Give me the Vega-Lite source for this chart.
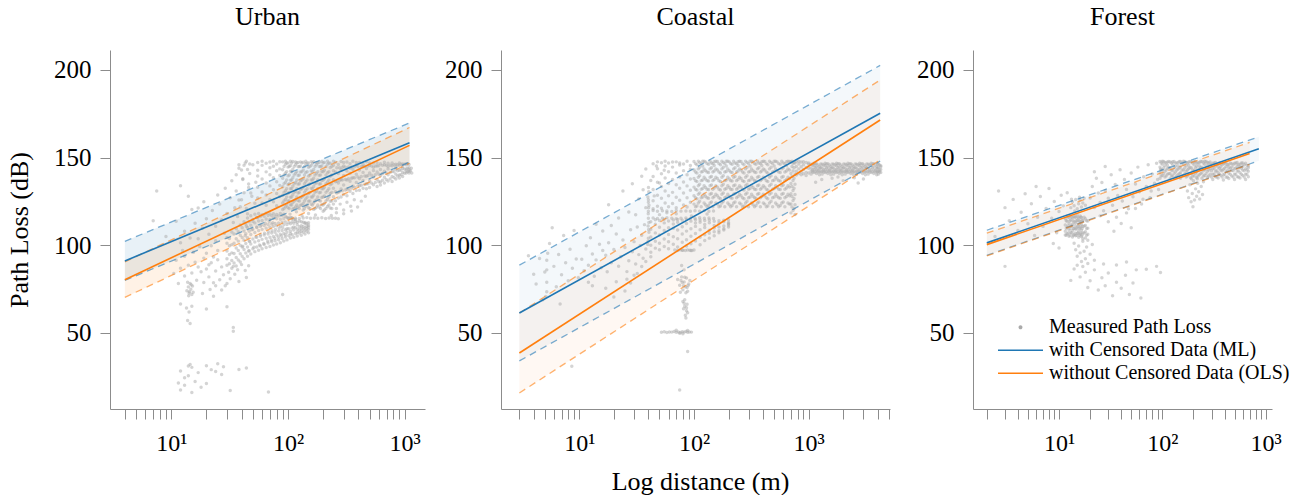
{
"$schema": "https://vega.github.io/schema/vega-lite/v6.json",
"padding": {"left": 6, "top": 3, "right": 5, "bottom": 5},
"spacing": 0,
"config": {
 "view": {"stroke": null},
 "font": "Liberation Serif",
 "axis": {"grid": false, "domainColor": "#8c8c8c", "tickColor": "#8c8c8c", "domainWidth": 1, "tickWidth": 1, "tickSize": 10, "labelFont": "Liberation Serif", "labelColor": "#000000", "titleFont": "Liberation Serif", "titleFontSize": 26, "titleFontWeight": "normal", "titleColor": "#000000"},
 "axisX": {"labelFontSize": 24, "labelPadding": 12, "titlePadding": 13.5, "labelFlush": false, "labelOverlap": false},
 "axisY": {"labelFontSize": 25, "labelPadding": 9, "titlePadding": 20},
 "title": {"font": "Liberation Serif", "fontSize": 26, "fontWeight": "normal", "color": "#000000", "baseline": "alphabetic", "offset": 20.2, "anchor": "middle", "frame": "group"}
},
"resolve": {"scale": {"color": "independent"}, "legend": {"color": "independent"}},
"datasets": {
"fit": [
{"panel":"Urban","model":"with Censored Data (ML)","d":4,"pl":91.1,"lo":80.0,"hi":102.3},
{"panel":"Urban","model":"with Censored Data (ML)","d":1100,"pl":158.5,"lo":147.4,"hi":169.8},
{"panel":"Urban","model":"without Censored Data (OLS)","d":4,"pl":80.4,"lo":70.3,"hi":90.6},
{"panel":"Urban","model":"without Censored Data (OLS)","d":1100,"pl":157.0,"lo":146.8,"hi":167.2},
{"panel":"Coastal","model":"with Censored Data (ML)","d":3,"pl":61.4,"lo":34.1,"hi":88.7},
{"panel":"Coastal","model":"with Censored Data (ML)","d":4200,"pl":175.3,"lo":148.0,"hi":202.6},
{"panel":"Coastal","model":"without Censored Data (OLS)","d":3,"pl":38.6,"lo":15.8,"hi":61.4},
{"panel":"Coastal","model":"without Censored Data (OLS)","d":4200,"pl":171.5,"lo":148.7,"hi":194.3},
{"panel":"Forest","model":"with Censored Data (ML)","d":2,"pl":101.4,"lo":94.3,"hi":108.6},
{"panel":"Forest","model":"with Censored Data (ML)","d":860,"pl":155.1,"lo":148.2,"hi":161.9},
{"panel":"Forest","model":"without Censored Data (OLS)","d":2,"pl":100.4,"lo":94.0,"hi":106.9},
{"panel":"Forest","model":"without Censored Data (OLS)","d":700,"pl":152.4,"lo":146.2,"hi":158.7}
],
"U": [
{"d":90,"pl":147.6},{"d":90,"pl":143.1},{"d":90,"pl":138.2},{"d":90,"pl":133.4},{"d":90,"pl":128.5},{"d":90,"pl":124.1},{"d":90,"pl":120.4},
{"d":95,"pl":146.2},{"d":95,"pl":141.3},{"d":95,"pl":136.0},{"d":95,"pl":131.1},{"d":95,"pl":126.2},{"d":95,"pl":122.0},{"d":95,"pl":148.0},
{"d":100,"pl":147.0},{"d":100,"pl":144.6},{"d":100,"pl":139.6},{"d":100,"pl":134.7},{"d":100,"pl":129.7},{"d":100,"pl":125.3},{"d":100,"pl":121.5},
{"d":105,"pl":145.4},{"d":105,"pl":142.2},{"d":105,"pl":137.1},{"d":105,"pl":132.3},{"d":105,"pl":127.4},{"d":105,"pl":123.2},{"d":105,"pl":147.9},
{"d":110,"pl":147.8},{"d":110,"pl":143.4},{"d":110,"pl":138.5},{"d":110,"pl":133.7},{"d":110,"pl":128.8},{"d":110,"pl":124.4},{"d":110,"pl":120.7},
{"d":116,"pl":146.0},{"d":116,"pl":141.1},{"d":116,"pl":135.8},{"d":116,"pl":130.9},{"d":116,"pl":126.0},{"d":116,"pl":121.8},{"d":116,"pl":147.5},
{"d":122,"pl":147.2},{"d":122,"pl":144.8},{"d":122,"pl":139.8},{"d":122,"pl":134.9},{"d":122,"pl":129.9},{"d":122,"pl":125.5},{"d":122,"pl":121.7},
{"d":128,"pl":145.1},{"d":128,"pl":141.9},{"d":128,"pl":136.8},{"d":128,"pl":132.0},{"d":128,"pl":127.1},{"d":128,"pl":122.9},{"d":128,"pl":147.6},
{"d":135,"pl":147.4},{"d":135,"pl":142.9},{"d":135,"pl":138.0},{"d":135,"pl":133.2},{"d":135,"pl":128.3},{"d":135,"pl":123.9},{"d":135,"pl":120.2},
{"d":142,"pl":146.5},{"d":142,"pl":141.6},{"d":142,"pl":136.3},{"d":142,"pl":131.4},{"d":142,"pl":126.5},{"d":142,"pl":122.3},{"d":142,"pl":148.0},
{"d":150,"pl":146.9},{"d":150,"pl":144.5},{"d":150,"pl":139.5},{"d":150,"pl":134.6},{"d":150,"pl":129.6},{"d":150,"pl":125.2},{"d":150,"pl":121.4},
{"d":158,"pl":145.6},{"d":158,"pl":142.4},{"d":158,"pl":137.3},{"d":158,"pl":132.5},{"d":158,"pl":127.6},{"d":158,"pl":123.4},{"d":158,"pl":147.7},
{"d":166,"pl":147.7},{"d":166,"pl":143.2},{"d":166,"pl":138.3},{"d":166,"pl":133.5},{"d":166,"pl":128.6},{"d":166,"pl":124.2},{"d":166,"pl":120.5},
{"d":175,"pl":145.9},{"d":175,"pl":141.0},{"d":175,"pl":135.7},{"d":175,"pl":130.8},{"d":175,"pl":125.9},{"d":175,"pl":121.7},{"d":175,"pl":147.3},
{"d":185,"pl":147.3},{"d":185,"pl":144.9},{"d":185,"pl":139.9},{"d":185,"pl":135.0},{"d":185,"pl":130.0},{"d":185,"pl":125.6},{"d":185,"pl":121.8},
{"d":195,"pl":145.3},{"d":195,"pl":142.1},{"d":195,"pl":137.0},{"d":195,"pl":132.2},{"d":195,"pl":127.3},{"d":195,"pl":123.1},{"d":195,"pl":147.8},
{"d":205,"pl":147.3},{"d":205,"pl":142.8},{"d":205,"pl":137.9},{"d":205,"pl":133.1},{"d":205,"pl":128.2},{"d":205,"pl":123.8},{"d":205,"pl":120.1},
{"d":218,"pl":146.3},{"d":218,"pl":141.4},{"d":218,"pl":136.1},{"d":218,"pl":131.2},{"d":218,"pl":126.3},{"d":218,"pl":122.1},{"d":218,"pl":148.0},
{"d":230,"pl":146.8},{"d":230,"pl":144.4},{"d":230,"pl":139.4},{"d":230,"pl":134.5},{"d":230,"pl":129.5},{"d":230,"pl":125.1},{"d":230,"pl":121.3},
{"d":245,"pl":145.7},{"d":245,"pl":142.5},{"d":245,"pl":137.4},{"d":245,"pl":132.6},{"d":245,"pl":127.7},{"d":245,"pl":123.5},{"d":245,"pl":147.9},
{"d":92.5,"pl":145.0},{"d":92.5,"pl":140.1},{"d":92.5,"pl":135.1},{"d":92.5,"pl":130.2},{"d":92.5,"pl":125.3},{"d":92.5,"pl":121.0},
{"d":97.5,"pl":146.9},{"d":97.5,"pl":142.0},{"d":97.5,"pl":137.2},{"d":97.5,"pl":132.3},{"d":97.5,"pl":127.5},{"d":97.5,"pl":123.0},
{"d":102.5,"pl":145.0},{"d":102.5,"pl":140.1},{"d":102.5,"pl":135.1},{"d":102.5,"pl":130.2},{"d":102.5,"pl":125.3},{"d":102.5,"pl":121.0},
{"d":107.5,"pl":146.9},{"d":107.5,"pl":142.0},{"d":107.5,"pl":137.2},{"d":107.5,"pl":132.3},{"d":107.5,"pl":127.5},{"d":107.5,"pl":123.0},
{"d":113,"pl":145.0},{"d":113,"pl":140.1},{"d":113,"pl":135.1},{"d":113,"pl":130.2},{"d":113,"pl":125.3},{"d":113,"pl":121.0},
{"d":119,"pl":146.9},{"d":119,"pl":142.0},{"d":119,"pl":137.2},{"d":119,"pl":132.3},{"d":119,"pl":127.5},{"d":119,"pl":123.0},
{"d":125,"pl":145.0},{"d":125,"pl":140.1},{"d":125,"pl":135.1},{"d":125,"pl":130.2},{"d":125,"pl":125.3},{"d":125,"pl":121.0},
{"d":131.5,"pl":146.9},{"d":131.5,"pl":142.0},{"d":131.5,"pl":137.2},{"d":131.5,"pl":132.3},{"d":131.5,"pl":127.5},{"d":131.5,"pl":123.0},
{"d":138.5,"pl":145.0},{"d":138.5,"pl":140.1},{"d":138.5,"pl":135.1},{"d":138.5,"pl":130.2},{"d":138.5,"pl":125.3},{"d":138.5,"pl":121.0},
{"d":146,"pl":146.9},{"d":146,"pl":142.0},{"d":146,"pl":137.2},{"d":146,"pl":132.3},{"d":146,"pl":127.5},{"d":146,"pl":123.0},
{"d":154,"pl":145.0},{"d":154,"pl":140.1},{"d":154,"pl":135.1},{"d":154,"pl":130.2},{"d":154,"pl":125.3},{"d":154,"pl":121.0},
{"d":162,"pl":146.9},{"d":162,"pl":142.0},{"d":162,"pl":137.2},{"d":162,"pl":132.3},{"d":162,"pl":127.5},{"d":162,"pl":123.0},
{"d":170.5,"pl":145.0},{"d":170.5,"pl":140.1},{"d":170.5,"pl":135.1},{"d":170.5,"pl":130.2},{"d":170.5,"pl":125.3},{"d":170.5,"pl":121.0},
{"d":180,"pl":146.9},{"d":180,"pl":142.0},{"d":180,"pl":137.2},{"d":180,"pl":132.3},{"d":180,"pl":127.5},{"d":180,"pl":123.0},
{"d":190,"pl":145.0},{"d":190,"pl":140.1},{"d":190,"pl":135.1},{"d":190,"pl":130.2},{"d":190,"pl":125.3},{"d":190,"pl":121.0},
{"d":200,"pl":146.9},{"d":200,"pl":142.0},{"d":200,"pl":137.2},{"d":200,"pl":132.3},{"d":200,"pl":127.5},{"d":200,"pl":123.0},
{"d":211.5,"pl":145.0},{"d":211.5,"pl":140.1},{"d":211.5,"pl":135.1},{"d":211.5,"pl":130.2},{"d":211.5,"pl":125.3},{"d":211.5,"pl":121.0},
{"d":224,"pl":146.9},{"d":224,"pl":142.0},{"d":224,"pl":137.2},{"d":224,"pl":132.3},{"d":224,"pl":127.5},{"d":224,"pl":123.0},
{"d":237.5,"pl":145.0},{"d":237.5,"pl":140.1},{"d":237.5,"pl":135.1},{"d":237.5,"pl":130.2},{"d":237.5,"pl":125.3},{"d":237.5,"pl":121.0},
{"d":55,"pl":147.2},{"d":55,"pl":139.5},{"d":55,"pl":133.1},{"d":55,"pl":127.0},{"d":55,"pl":142.8},
{"d":60,"pl":145.6},{"d":60,"pl":137.8},{"d":60,"pl":130.4},{"d":60,"pl":124.2},{"d":60,"pl":148.0},
{"d":65,"pl":146.8},{"d":65,"pl":141.9},{"d":65,"pl":135.6},{"d":65,"pl":128.7},{"d":65,"pl":122.9},
{"d":70,"pl":147.5},{"d":70,"pl":140.3},{"d":70,"pl":133.9},{"d":70,"pl":126.1},{"d":70,"pl":144.2},
{"d":75,"pl":145.1},{"d":75,"pl":138.6},{"d":75,"pl":131.7},{"d":75,"pl":124.8},{"d":75,"pl":147.9},
{"d":80,"pl":146.4},{"d":80,"pl":142.5},{"d":80,"pl":136.3},{"d":80,"pl":129.5},{"d":80,"pl":122.6},
{"d":85,"pl":147.7},{"d":85,"pl":139.9},{"d":85,"pl":134.2},{"d":85,"pl":127.8},{"d":85,"pl":143.6},
{"d":36,"pl":131},{"d":38,"pl":144},{"d":40,"pl":126},{"d":41,"pl":138},{"d":43,"pl":147},{"d":44,"pl":121},{"d":46,"pl":133},{"d":47,"pl":141},{"d":49,"pl":128},{"d":50,"pl":146},{"d":52,"pl":124},{"d":53,"pl":136},{"d":42,"pl":130},{"d":45,"pl":118},{"d":39,"pl":122},
{"d":255,"pl":147.4},{"d":255,"pl":141.8},{"d":255,"pl":136.2},{"d":255,"pl":130.6},{"d":255,"pl":125.4},
{"d":270,"pl":146.1},{"d":270,"pl":140.9},{"d":270,"pl":135.5},{"d":270,"pl":130.2},{"d":270,"pl":127.0},
{"d":285,"pl":147.8},{"d":285,"pl":143.0},{"d":285,"pl":137.6},{"d":285,"pl":132.1},{"d":285,"pl":127.5},
{"d":300,"pl":145.3},{"d":300,"pl":139.8},{"d":300,"pl":134.4},{"d":300,"pl":129.0},{"d":300,"pl":147.2},
{"d":320,"pl":147.5},{"d":320,"pl":142.4},{"d":320,"pl":137.2},{"d":320,"pl":132.0},{"d":320,"pl":128.3},
{"d":340,"pl":146.6},{"d":340,"pl":141.1},{"d":340,"pl":136.6},{"d":340,"pl":130.8},{"d":340,"pl":144.0},
{"d":360,"pl":147.9},{"d":360,"pl":143.3},{"d":360,"pl":138.5},{"d":360,"pl":133.7},{"d":360,"pl":129.5},
{"d":385,"pl":145.8},{"d":385,"pl":140.5},{"d":385,"pl":135.9},{"d":385,"pl":131.2},{"d":385,"pl":147.3},
{"d":410,"pl":147.2},{"d":410,"pl":142.9},{"d":410,"pl":138.1},{"d":410,"pl":134.0},{"d":410,"pl":131.4},
{"d":440,"pl":146.3},{"d":440,"pl":141.6},{"d":440,"pl":137.0},{"d":440,"pl":132.5},{"d":440,"pl":144.8},
{"d":470,"pl":147.6},{"d":470,"pl":143.8},{"d":470,"pl":139.4},{"d":470,"pl":135.1},{"d":470,"pl":132.3},
{"d":500,"pl":145.7},{"d":500,"pl":141.2},{"d":500,"pl":136.8},{"d":500,"pl":133.0},{"d":500,"pl":147.0},
{"d":540,"pl":146.9},{"d":540,"pl":142.7},{"d":540,"pl":138.9},{"d":540,"pl":134.6},{"d":540,"pl":144.5},
{"d":580,"pl":145.2},{"d":580,"pl":141.8},{"d":580,"pl":137.5},{"d":580,"pl":133.6},{"d":580,"pl":147.1},
{"d":620,"pl":146.5},{"d":620,"pl":143.2},{"d":620,"pl":139.7},{"d":620,"pl":136.1},{"d":620,"pl":134.4},
{"d":670,"pl":145.9},{"d":670,"pl":142.3},{"d":670,"pl":138.8},{"d":670,"pl":135.5},{"d":670,"pl":147.4},
{"d":720,"pl":146.8},{"d":720,"pl":143.6},{"d":720,"pl":140.2},{"d":720,"pl":136.7},{"d":720,"pl":144.9},
{"d":780,"pl":145.4},{"d":780,"pl":142.1},{"d":780,"pl":139.3},{"d":780,"pl":136.4},{"d":780,"pl":147.0},
{"d":840,"pl":146.2},{"d":840,"pl":143.4},{"d":840,"pl":140.6},{"d":840,"pl":137.8},{"d":840,"pl":144.7},
{"d":900,"pl":145.6},{"d":900,"pl":142.8},{"d":900,"pl":140.1},{"d":900,"pl":138.4},{"d":900,"pl":146.9},
{"d":960,"pl":146.4},{"d":960,"pl":143.9},{"d":960,"pl":141.5},{"d":960,"pl":139.3},{"d":960,"pl":145.1},
{"d":1030,"pl":145.8},{"d":1030,"pl":143.5},{"d":1030,"pl":141.2},{"d":1030,"pl":146.6},{"d":1030,"pl":142.4},
{"d":1090,"pl":146.1},{"d":1090,"pl":144.2},{"d":1090,"pl":142.3},{"d":1090,"pl":141.3},{"d":1090,"pl":143.1},
{"d":262,"pl":129.9},{"d":262,"pl":136.5},{"d":262,"pl":144.2},
{"d":277,"pl":130.7},{"d":277,"pl":137.0},{"d":277,"pl":144.3},
{"d":292,"pl":131.1},{"d":292,"pl":137.3},{"d":292,"pl":144.4},
{"d":310,"pl":131.5},{"d":310,"pl":137.5},{"d":310,"pl":144.5},
{"d":330,"pl":132.3},{"d":330,"pl":138.0},{"d":330,"pl":144.7},
{"d":350,"pl":132.7},{"d":350,"pl":138.3},{"d":350,"pl":144.7},
{"d":372,"pl":133.1},{"d":372,"pl":138.5},{"d":372,"pl":144.8},
{"d":397,"pl":133.9},{"d":397,"pl":139.0},{"d":397,"pl":145.0},
{"d":425,"pl":134.3},{"d":425,"pl":139.3},{"d":425,"pl":145.0},
{"d":455,"pl":134.7},{"d":455,"pl":139.5},{"d":455,"pl":145.1},
{"d":485,"pl":135.1},{"d":485,"pl":139.8},{"d":485,"pl":145.2},
{"d":520,"pl":135.5},{"d":520,"pl":140.0},{"d":520,"pl":145.3},
{"d":560,"pl":135.9},{"d":560,"pl":140.3},{"d":560,"pl":145.3},
{"d":600,"pl":136.3},{"d":600,"pl":140.5},{"d":600,"pl":145.4},
{"d":645,"pl":137.1},{"d":645,"pl":141.0},{"d":645,"pl":145.6},
{"d":695,"pl":137.5},{"d":695,"pl":141.3},{"d":695,"pl":145.6},
{"d":750,"pl":137.9},{"d":750,"pl":141.5},{"d":750,"pl":145.7},
{"d":810,"pl":138.7},{"d":810,"pl":142.0},{"d":810,"pl":145.9},
{"d":870,"pl":139.5},{"d":870,"pl":142.5},{"d":870,"pl":146.0},
{"d":930,"pl":140.3},{"d":930,"pl":143.0},{"d":930,"pl":146.2},
{"d":995,"pl":141.1},{"d":995,"pl":143.5},{"d":995,"pl":146.3},
{"d":1060,"pl":141.9},{"d":1060,"pl":144.0},{"d":1060,"pl":146.5},
{"d":1120,"pl":142.5},{"d":1140,"pl":144.0},{"d":1150,"pl":141.2},
{"d":260,"pl":121.0},{"d":280,"pl":123.5},{"d":300,"pl":120.2},{"d":320,"pl":124.6},{"d":345,"pl":122.3},{"d":370,"pl":126.0},{"d":395,"pl":121.8},{"d":425,"pl":125.2},{"d":460,"pl":128.0},{"d":300,"pl":118.0},{"d":350,"pl":119.6},
{"d":100,"pl":115.4},{"d":108,"pl":115.7},{"d":116,"pl":115.5},{"d":125,"pl":115.3},{"d":135,"pl":115.6},{"d":145,"pl":115.8},{"d":156,"pl":115.4},{"d":168,"pl":115.6},{"d":180,"pl":115.5},{"d":195,"pl":115.7},{"d":210,"pl":115.3},{"d":225,"pl":115.6},{"d":240,"pl":115.4},{"d":255,"pl":115.5},{"d":270,"pl":115.2},
{"d":104,"pl":117.8},{"d":118,"pl":119.1},{"d":132,"pl":116.9},{"d":150,"pl":118.2},{"d":172,"pl":117.3},{"d":200,"pl":119.4},{"d":235,"pl":117.0},{"d":260,"pl":118.6},
{"d":30,"pl":88.6},{"d":30,"pl":92.4},{"d":30,"pl":96.8},{"d":30,"pl":101.2},{"d":30,"pl":104.5},
{"d":33,"pl":86.9},{"d":33,"pl":91.3},{"d":33,"pl":95.7},{"d":33,"pl":100.4},{"d":33,"pl":107.6},
{"d":36,"pl":88.2},{"d":36,"pl":93.1},{"d":36,"pl":98.5},{"d":36,"pl":103.7},{"d":36,"pl":109.4},
{"d":39,"pl":90.5},{"d":39,"pl":95.2},{"d":39,"pl":100.1},{"d":39,"pl":105.8},{"d":39,"pl":111.6},
{"d":42,"pl":92.3},{"d":42,"pl":97.6},{"d":42,"pl":102.9},{"d":42,"pl":108.1},{"d":42,"pl":113.4},
{"d":45,"pl":93.8},{"d":45,"pl":99.0},{"d":45,"pl":104.3},{"d":45,"pl":110.2},{"d":45,"pl":115.6},
{"d":48,"pl":95.1},{"d":48,"pl":100.7},{"d":48,"pl":106.2},{"d":48,"pl":111.5},{"d":48,"pl":116.9},
{"d":52,"pl":96.4},{"d":52,"pl":101.9},{"d":52,"pl":107.3},{"d":52,"pl":112.8},{"d":52,"pl":117.7},
{"d":56,"pl":97.2},{"d":56,"pl":102.6},{"d":56,"pl":108.5},{"d":56,"pl":113.9},{"d":56,"pl":118.1},
{"d":60,"pl":98.0},{"d":60,"pl":103.4},{"d":60,"pl":109.1},{"d":60,"pl":114.2},{"d":60,"pl":117.4},
{"d":65,"pl":98.7},{"d":65,"pl":104.0},{"d":65,"pl":109.8},{"d":65,"pl":115.0},{"d":65,"pl":118.3},
{"d":70,"pl":99.3},{"d":70,"pl":104.6},{"d":70,"pl":110.3},{"d":70,"pl":114.7},{"d":70,"pl":117.9},
{"d":75,"pl":100.2},{"d":75,"pl":105.1},{"d":75,"pl":110.8},{"d":75,"pl":115.3},{"d":75,"pl":118.0},
{"d":80,"pl":100.8},{"d":80,"pl":105.9},{"d":80,"pl":111.2},{"d":80,"pl":115.1},{"d":80,"pl":117.6},
{"d":86,"pl":101.5},{"d":86,"pl":106.3},{"d":86,"pl":111.0},{"d":86,"pl":114.9},{"d":86,"pl":118.2},
{"d":92,"pl":102.4},{"d":92,"pl":106.8},{"d":92,"pl":111.7},{"d":92,"pl":115.2},{"d":92,"pl":117.8},
{"d":98,"pl":103.1},{"d":98,"pl":107.4},{"d":98,"pl":111.9},{"d":98,"pl":116.0},{"d":98,"pl":109.5},
{"d":105,"pl":104.2},{"d":105,"pl":108.0},{"d":105,"pl":112.3},{"d":105,"pl":115.9},{"d":105,"pl":106.6},
{"d":112,"pl":104.6},{"d":112,"pl":108.7},{"d":112,"pl":112.6},{"d":112,"pl":114.8},{"d":112,"pl":110.5},
{"d":120,"pl":105.3},{"d":120,"pl":109.2},{"d":120,"pl":113.1},{"d":120,"pl":107.4},{"d":120,"pl":111.8},
{"d":130,"pl":105.8},{"d":130,"pl":109.6},{"d":130,"pl":113.4},{"d":130,"pl":107.9},{"d":130,"pl":111.2},
{"d":140,"pl":106.5},{"d":140,"pl":110.1},{"d":140,"pl":113.0},{"d":140,"pl":108.6},{"d":140,"pl":112.4},
{"d":150,"pl":107.2},{"d":150,"pl":110.4},{"d":150,"pl":112.9},{"d":150,"pl":109.1},{"d":150,"pl":111.5},
{"d":31.5,"pl":89.5},{"d":31.5,"pl":94.8},{"d":31.5,"pl":99.7},{"d":31.5,"pl":103.9},
{"d":34.5,"pl":89.9},{"d":34.5,"pl":95.3},{"d":34.5,"pl":101.2},{"d":34.5,"pl":106.4},
{"d":37.5,"pl":91.6},{"d":37.5,"pl":97.0},{"d":37.5,"pl":102.4},{"d":37.5,"pl":107.8},
{"d":40.5,"pl":93.7},{"d":40.5,"pl":99.1},{"d":40.5,"pl":104.5},{"d":40.5,"pl":110.0},
{"d":43.5,"pl":95.6},{"d":43.5,"pl":101.0},{"d":43.5,"pl":106.6},{"d":43.5,"pl":112.1},
{"d":46.5,"pl":96.9},{"d":46.5,"pl":102.4},{"d":46.5,"pl":108.0},{"d":46.5,"pl":113.5},
{"d":50,"pl":98.0},{"d":50,"pl":103.6},{"d":50,"pl":109.2},{"d":50,"pl":114.8},
{"d":54,"pl":99.0},{"d":54,"pl":104.6},{"d":54,"pl":110.2},{"d":54,"pl":115.9},
{"d":58,"pl":99.6},{"d":58,"pl":105.2},{"d":58,"pl":110.8},{"d":58,"pl":116.4},
{"d":62.5,"pl":100.5},{"d":62.5,"pl":105.9},{"d":62.5,"pl":111.3},{"d":62.5,"pl":116.6},
{"d":67.5,"pl":101.3},{"d":67.5,"pl":106.5},{"d":67.5,"pl":111.8},{"d":67.5,"pl":117.0},
{"d":72.5,"pl":102.0},{"d":72.5,"pl":107.0},{"d":72.5,"pl":112.1},{"d":72.5,"pl":116.9},
{"d":77.5,"pl":102.6},{"d":77.5,"pl":107.5},{"d":77.5,"pl":112.5},{"d":77.5,"pl":116.5},
{"d":83,"pl":103.2},{"d":83,"pl":108.1},{"d":83,"pl":112.8},{"d":83,"pl":116.7},
{"d":89,"pl":103.9},{"d":89,"pl":108.5},{"d":89,"pl":113.2},{"d":89,"pl":116.9},
{"d":95,"pl":104.7},{"d":95,"pl":108.9},{"d":95,"pl":113.3},{"d":95,"pl":116.5},
{"d":101.5,"pl":105.5},{"d":101.5,"pl":109.4},{"d":101.5,"pl":113.0},{"d":101.5,"pl":115.5},
{"d":108.5,"pl":106.1},{"d":108.5,"pl":109.9},{"d":108.5,"pl":113.5},{"d":108.5,"pl":115.3},
{"d":116,"pl":106.7},{"d":116,"pl":110.1},{"d":116,"pl":113.6},{"d":116,"pl":114.7},
{"d":125,"pl":107.0},{"d":125,"pl":110.6},{"d":125,"pl":113.9},{"d":125,"pl":108.7},
{"d":135,"pl":107.4},{"d":135,"pl":110.8},{"d":135,"pl":113.2},{"d":135,"pl":109.3},
{"d":145,"pl":108.0},{"d":145,"pl":110.9},{"d":145,"pl":112.5},{"d":145,"pl":109.6},
{"d":41,"pl":99.5},{"d":43,"pl":105.5},{"d":44,"pl":110.9},{"d":46,"pl":96.8},{"d":47,"pl":102.2},{"d":49,"pl":108.9},{"d":50,"pl":113.6},{"d":51,"pl":98.9},{"d":53,"pl":104.8},{"d":54,"pl":110.5},{"d":55,"pl":115.8},{"d":57,"pl":100.2},{"d":58,"pl":106.0},{"d":59,"pl":111.6},{"d":62,"pl":101.0},{"d":63,"pl":106.9},{"d":64,"pl":112.4},{"d":67,"pl":102.3},{"d":68,"pl":107.8},{"d":69,"pl":113.5},{"d":72,"pl":103.0},{"d":73,"pl":108.3},{"d":74,"pl":112.9},{"d":77,"pl":104.0},{"d":78,"pl":109.0},{"d":83,"pl":104.7},{"d":84,"pl":109.7},{"d":88,"pl":105.5},{"d":90,"pl":110.1},{"d":95,"pl":106.0},
{"d":20,"pl":86.5},{"d":21,"pl":82.0},{"d":22,"pl":90.1},{"d":23,"pl":78.6},{"d":24,"pl":85.3},{"d":25,"pl":91.8},{"d":26,"pl":80.4},{"d":27,"pl":87.7},{"d":28,"pl":83.2},{"d":29,"pl":76.9},{"d":31,"pl":84.6},{"d":32,"pl":80.9},{"d":34,"pl":88.0},{"d":35,"pl":83.5},{"d":37,"pl":86.1},{"d":38,"pl":79.4},{"d":40,"pl":89.0},{"d":43,"pl":85.6},{"d":44,"pl":81.7},{"d":46,"pl":88.4},{"d":24,"pl":77.0},{"d":27,"pl":74.5},{"d":30,"pl":78.2},
{"d":10.5,"pl":84.0},{"d":11,"pl":91.5},{"d":11.5,"pl":78.2},{"d":12,"pl":86.9},{"d":12.5,"pl":97.0},{"d":13,"pl":82.5},{"d":13,"pl":93.8},{"d":14,"pl":88.7},{"d":15,"pl":84.2},{"d":15.5,"pl":96.1},{"d":16,"pl":90.3},{"d":16.5,"pl":80.1},{"d":17,"pl":87.6},{"d":17.5,"pl":99.4},{"d":18,"pl":84.9},{"d":19,"pl":92.7},{"d":19,"pl":78.8},{"d":20,"pl":95.5},{"d":21,"pl":88.9},{"d":22,"pl":99.8},{"d":23,"pl":93.4},{"d":24,"pl":102.6},{"d":25,"pl":97.1},{"d":18.5,"pl":72.5},{"d":21.5,"pl":74.8},{"d":23,"pl":71.0},
{"d":13.6,"pl":74.1},{"d":14.0,"pl":76.3},{"d":14.2,"pl":72.8},{"d":14.5,"pl":78.2},{"d":14.7,"pl":74.9},{"d":15.0,"pl":71.9},{"d":15.2,"pl":76.8},{"d":14.3,"pl":73.5},{"d":14.8,"pl":77.5},{"d":15.4,"pl":73.2},{"d":13.8,"pl":78.9},{"d":14.1,"pl":71.2},
{"d":13.5,"pl":64.2},{"d":14.2,"pl":62.0},{"d":15.0,"pl":65.3},{"d":13.8,"pl":57.1},{"d":14.5,"pl":55.4},{"d":34,"pl":53.2},{"d":34,"pl":51.0},{"d":30,"pl":65.0},{"d":90,"pl":72.0},{"d":44,"pl":30.0},{"d":12,"pl":66.5},{"d":20,"pl":63.7},
{"d":12,"pl":101.5},{"d":13,"pl":108.0},{"d":14.5,"pl":104.2},{"d":16,"pl":112.6},{"d":17,"pl":103.8},{"d":18.5,"pl":109.7},{"d":20,"pl":115.2},{"d":21,"pl":106.3},{"d":22.5,"pl":119.8},{"d":24,"pl":110.9},{"d":26,"pl":123.5},{"d":27,"pl":114.6},{"d":28.5,"pl":106.9},{"d":30,"pl":118.2},{"d":32,"pl":127.1},{"d":34,"pl":113.0},{"d":35,"pl":121.4},{"d":37,"pl":116.5},{"d":38,"pl":125.9},{"d":11,"pl":113.7},{"d":15,"pl":120.4},{"d":19,"pl":124.8},{"d":9,"pl":105.0},{"d":7.5,"pl":131.0},{"d":7,"pl":114.0},{"d":12,"pl":134.0},{"d":14,"pl":128.0},{"d":17,"pl":121.3},{"d":25,"pl":128.7},{"d":29,"pl":132.5},{"d":33,"pl":136.8},{"d":36,"pl":140.2},{"d":40,"pl":142.9},{"d":42,"pl":145.6},{"d":44,"pl":148.0},{"d":45,"pl":143.2},{"d":47,"pl":146.4},{"d":38,"pl":146.0},{"d":41,"pl":137.5},{"d":46,"pl":135.0},{"d":48,"pl":129.9},
{"d":12,"pl":28.3},{"d":13,"pl":24.5},{"d":14,"pl":31.2},{"d":14.5,"pl":32.1},{"d":15,"pl":30.4},{"d":14,"pl":25.6},{"d":16,"pl":22.3},{"d":13,"pl":20.2},{"d":12,"pl":17.5},{"d":17,"pl":27.4},{"d":20,"pl":31.3},{"d":22,"pl":29.1},{"d":24,"pl":28.0},{"d":25,"pl":32.4},{"d":27,"pl":26.3},{"d":28,"pl":30.8},{"d":20,"pl":21.2},{"d":18,"pl":19.0},{"d":32,"pl":17.2},{"d":38,"pl":29.2},{"d":68,"pl":16.4},{"d":15,"pl":16.0},{"d":11.5,"pl":21.5}
],
"C": [
{"d":100,"pl":147.8},{"d":100,"pl":143.0},{"d":100,"pl":138.1},{"d":100,"pl":133.2},{"d":100,"pl":128.3},{"d":100,"pl":123.5},
{"d":106,"pl":146.0},{"d":106,"pl":141.2},{"d":106,"pl":136.4},{"d":106,"pl":131.5},{"d":106,"pl":126.6},{"d":106,"pl":122.4},
{"d":112,"pl":147.3},{"d":112,"pl":144.5},{"d":112,"pl":139.7},{"d":112,"pl":134.8},{"d":112,"pl":129.9},{"d":112,"pl":125.1},
{"d":119,"pl":145.2},{"d":119,"pl":142.1},{"d":119,"pl":137.3},{"d":119,"pl":132.4},{"d":119,"pl":127.6},{"d":119,"pl":148.0},
{"d":126,"pl":147.6},{"d":126,"pl":142.6},{"d":126,"pl":137.8},{"d":126,"pl":133.0},{"d":126,"pl":128.0},{"d":126,"pl":123.1},
{"d":134,"pl":146.3},{"d":134,"pl":141.5},{"d":134,"pl":136.7},{"d":134,"pl":131.8},{"d":134,"pl":126.9},{"d":134,"pl":122.7},
{"d":142,"pl":147.0},{"d":142,"pl":144.2},{"d":142,"pl":139.3},{"d":142,"pl":134.4},{"d":142,"pl":129.5},{"d":142,"pl":124.7},
{"d":150,"pl":145.5},{"d":150,"pl":142.4},{"d":150,"pl":137.6},{"d":150,"pl":132.7},{"d":150,"pl":127.9},{"d":150,"pl":147.7},
{"d":160,"pl":147.8},{"d":160,"pl":143.0},{"d":160,"pl":138.1},{"d":160,"pl":133.2},{"d":160,"pl":128.3},{"d":160,"pl":123.5},
{"d":170,"pl":146.0},{"d":170,"pl":141.2},{"d":170,"pl":136.4},{"d":170,"pl":131.5},{"d":170,"pl":126.6},{"d":170,"pl":122.4},
{"d":180,"pl":147.3},{"d":180,"pl":144.5},{"d":180,"pl":139.7},{"d":180,"pl":134.8},{"d":180,"pl":129.9},{"d":180,"pl":125.1},
{"d":191,"pl":145.2},{"d":191,"pl":142.1},{"d":191,"pl":137.3},{"d":191,"pl":132.4},{"d":191,"pl":127.6},{"d":191,"pl":148.0},
{"d":203,"pl":147.6},{"d":203,"pl":142.6},{"d":203,"pl":137.8},{"d":203,"pl":133.0},{"d":203,"pl":128.0},{"d":203,"pl":123.1},
{"d":215,"pl":146.3},{"d":215,"pl":141.5},{"d":215,"pl":136.7},{"d":215,"pl":131.8},{"d":215,"pl":126.9},{"d":215,"pl":122.7},
{"d":228,"pl":147.0},{"d":228,"pl":144.2},{"d":228,"pl":139.3},{"d":228,"pl":134.4},{"d":228,"pl":129.5},{"d":228,"pl":124.7},
{"d":242,"pl":145.5},{"d":242,"pl":142.4},{"d":242,"pl":137.6},{"d":242,"pl":132.7},{"d":242,"pl":127.9},{"d":242,"pl":147.7},
{"d":257,"pl":147.8},{"d":257,"pl":143.0},{"d":257,"pl":138.1},{"d":257,"pl":133.2},{"d":257,"pl":128.3},{"d":257,"pl":123.5},
{"d":273,"pl":146.0},{"d":273,"pl":141.2},{"d":273,"pl":136.4},{"d":273,"pl":131.5},{"d":273,"pl":126.6},{"d":273,"pl":122.4},
{"d":290,"pl":147.3},{"d":290,"pl":144.5},{"d":290,"pl":139.7},{"d":290,"pl":134.8},{"d":290,"pl":129.9},{"d":290,"pl":125.1},
{"d":308,"pl":145.2},{"d":308,"pl":142.1},{"d":308,"pl":137.3},{"d":308,"pl":132.4},{"d":308,"pl":127.6},{"d":308,"pl":148.0},
{"d":327,"pl":147.6},{"d":327,"pl":142.6},{"d":327,"pl":137.8},{"d":327,"pl":133.0},{"d":327,"pl":128.0},{"d":327,"pl":123.1},
{"d":347,"pl":146.3},{"d":347,"pl":141.5},{"d":347,"pl":136.7},{"d":347,"pl":131.8},{"d":347,"pl":126.9},{"d":347,"pl":122.7},
{"d":368,"pl":147.0},{"d":368,"pl":144.2},{"d":368,"pl":139.3},{"d":368,"pl":134.4},{"d":368,"pl":129.5},{"d":368,"pl":124.7},
{"d":390,"pl":145.5},{"d":390,"pl":142.4},{"d":390,"pl":137.6},{"d":390,"pl":132.7},{"d":390,"pl":127.9},{"d":390,"pl":147.7},
{"d":414,"pl":147.8},{"d":414,"pl":143.0},{"d":414,"pl":138.1},{"d":414,"pl":133.2},{"d":414,"pl":128.3},{"d":414,"pl":123.5},
{"d":440,"pl":146.0},{"d":440,"pl":141.2},{"d":440,"pl":136.4},{"d":440,"pl":131.5},{"d":440,"pl":126.6},{"d":440,"pl":122.4},
{"d":470,"pl":147.3},{"d":470,"pl":144.5},{"d":470,"pl":139.7},{"d":470,"pl":134.8},{"d":470,"pl":129.9},{"d":470,"pl":125.1},
{"d":500,"pl":145.2},{"d":500,"pl":142.1},{"d":500,"pl":137.3},{"d":500,"pl":132.4},{"d":500,"pl":127.6},{"d":500,"pl":148.0},
{"d":530,"pl":147.6},{"d":530,"pl":142.6},{"d":530,"pl":137.8},{"d":530,"pl":133.0},{"d":530,"pl":128.0},{"d":530,"pl":123.1},
{"d":565,"pl":146.3},{"d":565,"pl":141.5},{"d":565,"pl":136.7},{"d":565,"pl":131.8},{"d":565,"pl":126.9},{"d":565,"pl":122.7},
{"d":600,"pl":147.0},{"d":600,"pl":144.2},{"d":600,"pl":139.3},{"d":600,"pl":134.4},{"d":600,"pl":129.5},{"d":600,"pl":124.7},
{"d":640,"pl":145.5},{"d":640,"pl":142.4},{"d":640,"pl":137.6},{"d":640,"pl":132.7},{"d":640,"pl":127.9},{"d":640,"pl":147.7},
{"d":680,"pl":147.8},{"d":680,"pl":143.0},{"d":680,"pl":138.1},{"d":680,"pl":133.2},{"d":680,"pl":128.3},{"d":680,"pl":123.5},
{"d":103,"pl":146.6},{"d":103,"pl":141.8},{"d":103,"pl":136.9},{"d":103,"pl":132.0},{"d":103,"pl":127.1},{"d":103,"pl":122.0},
{"d":109,"pl":147.9},{"d":109,"pl":143.6},{"d":109,"pl":138.8},{"d":109,"pl":134.0},{"d":109,"pl":129.1},{"d":109,"pl":124.2},
{"d":115.5,"pl":146.6},{"d":115.5,"pl":141.8},{"d":115.5,"pl":136.9},{"d":115.5,"pl":132.0},{"d":115.5,"pl":127.1},{"d":115.5,"pl":122.0},
{"d":122.5,"pl":147.9},{"d":122.5,"pl":143.6},{"d":122.5,"pl":138.8},{"d":122.5,"pl":134.0},{"d":122.5,"pl":129.1},{"d":122.5,"pl":124.2},
{"d":130,"pl":146.6},{"d":130,"pl":141.8},{"d":130,"pl":136.9},{"d":130,"pl":132.0},{"d":130,"pl":127.1},{"d":130,"pl":122.0},
{"d":138,"pl":147.9},{"d":138,"pl":143.6},{"d":138,"pl":138.8},{"d":138,"pl":134.0},{"d":138,"pl":129.1},{"d":138,"pl":124.2},
{"d":146,"pl":146.6},{"d":146,"pl":141.8},{"d":146,"pl":136.9},{"d":146,"pl":132.0},{"d":146,"pl":127.1},{"d":146,"pl":122.0},
{"d":155,"pl":147.9},{"d":155,"pl":143.6},{"d":155,"pl":138.8},{"d":155,"pl":134.0},{"d":155,"pl":129.1},{"d":155,"pl":124.2},
{"d":165,"pl":146.6},{"d":165,"pl":141.8},{"d":165,"pl":136.9},{"d":165,"pl":132.0},{"d":165,"pl":127.1},{"d":165,"pl":122.0},
{"d":175,"pl":147.9},{"d":175,"pl":143.6},{"d":175,"pl":138.8},{"d":175,"pl":134.0},{"d":175,"pl":129.1},{"d":175,"pl":124.2},
{"d":185.5,"pl":146.6},{"d":185.5,"pl":141.8},{"d":185.5,"pl":136.9},{"d":185.5,"pl":132.0},{"d":185.5,"pl":127.1},{"d":185.5,"pl":122.0},
{"d":197,"pl":147.9},{"d":197,"pl":143.6},{"d":197,"pl":138.8},{"d":197,"pl":134.0},{"d":197,"pl":129.1},{"d":197,"pl":124.2},
{"d":209,"pl":146.6},{"d":209,"pl":141.8},{"d":209,"pl":136.9},{"d":209,"pl":132.0},{"d":209,"pl":127.1},{"d":209,"pl":122.0},
{"d":221.5,"pl":147.9},{"d":221.5,"pl":143.6},{"d":221.5,"pl":138.8},{"d":221.5,"pl":134.0},{"d":221.5,"pl":129.1},{"d":221.5,"pl":124.2},
{"d":235,"pl":146.6},{"d":235,"pl":141.8},{"d":235,"pl":136.9},{"d":235,"pl":132.0},{"d":235,"pl":127.1},{"d":235,"pl":122.0},
{"d":249.5,"pl":147.9},{"d":249.5,"pl":143.6},{"d":249.5,"pl":138.8},{"d":249.5,"pl":134.0},{"d":249.5,"pl":129.1},{"d":249.5,"pl":124.2},
{"d":265,"pl":146.6},{"d":265,"pl":141.8},{"d":265,"pl":136.9},{"d":265,"pl":132.0},{"d":265,"pl":127.1},{"d":265,"pl":122.0},
{"d":281.5,"pl":147.9},{"d":281.5,"pl":143.6},{"d":281.5,"pl":138.8},{"d":281.5,"pl":134.0},{"d":281.5,"pl":129.1},{"d":281.5,"pl":124.2},
{"d":299,"pl":146.6},{"d":299,"pl":141.8},{"d":299,"pl":136.9},{"d":299,"pl":132.0},{"d":299,"pl":127.1},{"d":299,"pl":122.0},
{"d":317.5,"pl":147.9},{"d":317.5,"pl":143.6},{"d":317.5,"pl":138.8},{"d":317.5,"pl":134.0},{"d":317.5,"pl":129.1},{"d":317.5,"pl":124.2},
{"d":337,"pl":146.6},{"d":337,"pl":141.8},{"d":337,"pl":136.9},{"d":337,"pl":132.0},{"d":337,"pl":127.1},{"d":337,"pl":122.0},
{"d":357.5,"pl":147.9},{"d":357.5,"pl":143.6},{"d":357.5,"pl":138.8},{"d":357.5,"pl":134.0},{"d":357.5,"pl":129.1},{"d":357.5,"pl":124.2},
{"d":379,"pl":146.6},{"d":379,"pl":141.8},{"d":379,"pl":136.9},{"d":379,"pl":132.0},{"d":379,"pl":127.1},{"d":379,"pl":122.0},
{"d":402,"pl":147.9},{"d":402,"pl":143.6},{"d":402,"pl":138.8},{"d":402,"pl":134.0},{"d":402,"pl":129.1},{"d":402,"pl":124.2},
{"d":427,"pl":146.6},{"d":427,"pl":141.8},{"d":427,"pl":136.9},{"d":427,"pl":132.0},{"d":427,"pl":127.1},{"d":427,"pl":122.0},
{"d":455,"pl":147.9},{"d":455,"pl":143.6},{"d":455,"pl":138.8},{"d":455,"pl":134.0},{"d":455,"pl":129.1},{"d":455,"pl":124.2},
{"d":485,"pl":146.6},{"d":485,"pl":141.8},{"d":485,"pl":136.9},{"d":485,"pl":132.0},{"d":485,"pl":127.1},{"d":485,"pl":122.0},
{"d":515,"pl":147.9},{"d":515,"pl":143.6},{"d":515,"pl":138.8},{"d":515,"pl":134.0},{"d":515,"pl":129.1},{"d":515,"pl":124.2},
{"d":547.5,"pl":146.6},{"d":547.5,"pl":141.8},{"d":547.5,"pl":136.9},{"d":547.5,"pl":132.0},{"d":547.5,"pl":127.1},{"d":547.5,"pl":122.0},
{"d":582.5,"pl":147.9},{"d":582.5,"pl":143.6},{"d":582.5,"pl":138.8},{"d":582.5,"pl":134.0},{"d":582.5,"pl":129.1},{"d":582.5,"pl":124.2},
{"d":620,"pl":146.6},{"d":620,"pl":141.8},{"d":620,"pl":136.9},{"d":620,"pl":132.0},{"d":620,"pl":127.1},{"d":620,"pl":122.0},
{"d":660,"pl":147.9},{"d":660,"pl":143.6},{"d":660,"pl":138.8},{"d":660,"pl":134.0},{"d":660,"pl":129.1},{"d":660,"pl":124.2},
{"d":700,"pl":147.5},{"d":700,"pl":141.0},{"d":700,"pl":135.2},{"d":700,"pl":129.4},{"d":700,"pl":123.6},{"d":700,"pl":118.5},
{"d":715,"pl":145.0},{"d":715,"pl":139.3},{"d":715,"pl":133.6},{"d":715,"pl":127.8},{"d":715,"pl":121.9},{"d":715,"pl":147.9},
{"d":730,"pl":146.6},{"d":730,"pl":142.4},{"d":730,"pl":137.0},{"d":730,"pl":131.3},{"d":730,"pl":125.5},{"d":730,"pl":119.8},
{"d":745,"pl":144.3},{"d":745,"pl":138.2},{"d":745,"pl":132.5},{"d":745,"pl":126.7},{"d":745,"pl":121.0},{"d":745,"pl":147.2},
{"d":760,"pl":146.9},{"d":760,"pl":140.6},{"d":760,"pl":134.8},{"d":760,"pl":129.0},{"d":760,"pl":123.2},{"d":760,"pl":117.6},
{"d":44,"pl":146.5},{"d":44,"pl":139.2},{"d":44,"pl":131.8},{"d":44,"pl":125.4},{"d":44,"pl":120.8},
{"d":48,"pl":143.7},{"d":48,"pl":136.0},{"d":48,"pl":128.6},{"d":48,"pl":122.3},{"d":48,"pl":147.6},
{"d":52,"pl":147.1},{"d":52,"pl":140.8},{"d":52,"pl":133.5},{"d":52,"pl":126.9},{"d":52,"pl":121.2},
{"d":56,"pl":145.3},{"d":56,"pl":138.4},{"d":56,"pl":131.0},{"d":56,"pl":124.1},{"d":56,"pl":147.9},
{"d":60,"pl":146.9},{"d":60,"pl":142.0},{"d":60,"pl":135.2},{"d":60,"pl":128.3},{"d":60,"pl":122.0},
{"d":65,"pl":144.6},{"d":65,"pl":137.5},{"d":65,"pl":130.2},{"d":65,"pl":123.8},{"d":65,"pl":147.5},
{"d":70,"pl":147.6},{"d":70,"pl":141.3},{"d":70,"pl":134.5},{"d":70,"pl":127.4},{"d":70,"pl":121.5},
{"d":75,"pl":145.8},{"d":75,"pl":139.0},{"d":75,"pl":132.6},{"d":75,"pl":125.7},{"d":75,"pl":147.0},
{"d":81,"pl":146.4},{"d":81,"pl":142.6},{"d":81,"pl":136.1},{"d":81,"pl":129.8},{"d":81,"pl":123.0},
{"d":87,"pl":147.9},{"d":87,"pl":140.2},{"d":87,"pl":133.9},{"d":87,"pl":127.1},{"d":87,"pl":121.8},
{"d":93,"pl":145.5},{"d":93,"pl":143.4},{"d":93,"pl":137.8},{"d":93,"pl":131.4},{"d":93,"pl":124.6},
{"d":780,"pl":147.8},{"d":780,"pl":145.0},{"d":780,"pl":142.3},{"d":780,"pl":140.1},
{"d":820,"pl":146.4},{"d":820,"pl":143.6},{"d":820,"pl":141.0},{"d":820,"pl":148.0},
{"d":860,"pl":147.5},{"d":860,"pl":144.8},{"d":860,"pl":142.0},{"d":860,"pl":140.3},
{"d":900,"pl":146.0},{"d":900,"pl":143.2},{"d":900,"pl":140.8},{"d":900,"pl":147.7},
{"d":950,"pl":147.2},{"d":950,"pl":144.4},{"d":950,"pl":141.6},{"d":950,"pl":139.8},
{"d":1000,"pl":146.3},{"d":1000,"pl":143.9},{"d":1000,"pl":141.3},{"d":1000,"pl":147.0},
{"d":1050,"pl":146.2},{"d":1050,"pl":144.1},{"d":1050,"pl":142.3},{"d":1050,"pl":140.6},
{"d":1110,"pl":145.4},{"d":1110,"pl":143.3},{"d":1110,"pl":141.5},{"d":1110,"pl":146.8},
{"d":1170,"pl":146.5},{"d":1170,"pl":144.6},{"d":1170,"pl":142.8},{"d":1170,"pl":141.0},
{"d":1240,"pl":145.0},{"d":1240,"pl":143.7},{"d":1240,"pl":141.9},{"d":1240,"pl":140.3},
{"d":1310,"pl":146.2},{"d":1310,"pl":144.1},{"d":1310,"pl":142.3},{"d":1310,"pl":140.6},
{"d":1390,"pl":145.4},{"d":1390,"pl":143.3},{"d":1390,"pl":141.5},{"d":1390,"pl":146.8},
{"d":1470,"pl":146.5},{"d":1470,"pl":144.6},{"d":1470,"pl":142.8},{"d":1470,"pl":141.0},
{"d":1560,"pl":145.0},{"d":1560,"pl":143.7},{"d":1560,"pl":141.9},{"d":1560,"pl":140.3},
{"d":1650,"pl":146.2},{"d":1650,"pl":144.1},{"d":1650,"pl":142.3},{"d":1650,"pl":140.6},
{"d":1750,"pl":145.4},{"d":1750,"pl":143.3},{"d":1750,"pl":141.5},{"d":1750,"pl":146.8},
{"d":1850,"pl":146.5},{"d":1850,"pl":144.6},{"d":1850,"pl":142.8},{"d":1850,"pl":141.0},
{"d":1960,"pl":145.0},{"d":1960,"pl":143.7},{"d":1960,"pl":141.9},{"d":1960,"pl":140.3},
{"d":2080,"pl":146.2},{"d":2080,"pl":144.1},{"d":2080,"pl":142.3},{"d":2080,"pl":140.6},
{"d":2200,"pl":145.4},{"d":2200,"pl":143.3},{"d":2200,"pl":141.5},{"d":2200,"pl":146.8},
{"d":2330,"pl":146.5},{"d":2330,"pl":144.6},{"d":2330,"pl":142.8},{"d":2330,"pl":141.0},
{"d":2470,"pl":145.0},{"d":2470,"pl":143.7},{"d":2470,"pl":141.9},{"d":2470,"pl":140.3},
{"d":2620,"pl":146.2},{"d":2620,"pl":144.1},{"d":2620,"pl":142.3},{"d":2620,"pl":140.6},
{"d":2780,"pl":145.4},{"d":2780,"pl":143.3},{"d":2780,"pl":141.5},{"d":2780,"pl":146.8},
{"d":2950,"pl":146.5},{"d":2950,"pl":144.6},{"d":2950,"pl":142.8},{"d":2950,"pl":141.0},
{"d":3120,"pl":145.0},{"d":3120,"pl":143.7},{"d":3120,"pl":141.9},{"d":3120,"pl":140.3},
{"d":3300,"pl":146.2},{"d":3300,"pl":144.1},{"d":3300,"pl":142.3},{"d":3300,"pl":140.6},
{"d":3500,"pl":145.4},{"d":3500,"pl":143.3},{"d":3500,"pl":141.5},{"d":3500,"pl":146.8},
{"d":3700,"pl":146.5},{"d":3700,"pl":144.6},{"d":3700,"pl":142.8},{"d":3700,"pl":141.0},
{"d":3920,"pl":145.0},{"d":3920,"pl":143.7},{"d":3920,"pl":141.9},{"d":3920,"pl":140.3},
{"d":4050,"pl":146.2},{"d":4050,"pl":144.1},{"d":4050,"pl":142.3},{"d":4050,"pl":140.6},
{"d":4250,"pl":145.4},{"d":4250,"pl":143.3},{"d":4250,"pl":141.5},{"d":4250,"pl":144.8},
{"d":1080,"pl":145.8},{"d":1080,"pl":143.0},{"d":1080,"pl":141.8},
{"d":1140,"pl":146.4},{"d":1140,"pl":144.3},{"d":1140,"pl":142.0},
{"d":1205,"pl":145.8},{"d":1205,"pl":143.0},{"d":1205,"pl":141.8},
{"d":1275,"pl":146.4},{"d":1275,"pl":144.3},{"d":1275,"pl":142.0},
{"d":1350,"pl":145.8},{"d":1350,"pl":143.0},{"d":1350,"pl":141.8},
{"d":1430,"pl":146.4},{"d":1430,"pl":144.3},{"d":1430,"pl":142.0},
{"d":1515,"pl":145.8},{"d":1515,"pl":143.0},{"d":1515,"pl":141.8},
{"d":1605,"pl":146.4},{"d":1605,"pl":144.3},{"d":1605,"pl":142.0},
{"d":1700,"pl":145.8},{"d":1700,"pl":143.0},{"d":1700,"pl":141.8},
{"d":1800,"pl":146.4},{"d":1800,"pl":144.3},{"d":1800,"pl":142.0},
{"d":1905,"pl":145.8},{"d":1905,"pl":143.0},{"d":1905,"pl":141.8},
{"d":2020,"pl":146.4},{"d":2020,"pl":144.3},{"d":2020,"pl":142.0},
{"d":2140,"pl":145.8},{"d":2140,"pl":143.0},{"d":2140,"pl":141.8},
{"d":2265,"pl":146.4},{"d":2265,"pl":144.3},{"d":2265,"pl":142.0},
{"d":2400,"pl":145.8},{"d":2400,"pl":143.0},{"d":2400,"pl":141.8},
{"d":2545,"pl":146.4},{"d":2545,"pl":144.3},{"d":2545,"pl":142.0},
{"d":2700,"pl":145.8},{"d":2700,"pl":143.0},{"d":2700,"pl":141.8},
{"d":2865,"pl":146.4},{"d":2865,"pl":144.3},{"d":2865,"pl":142.0},
{"d":3035,"pl":145.8},{"d":3035,"pl":143.0},{"d":3035,"pl":141.8},
{"d":3210,"pl":146.4},{"d":3210,"pl":144.3},{"d":3210,"pl":142.0},
{"d":3400,"pl":145.8},{"d":3400,"pl":143.0},{"d":3400,"pl":141.8},
{"d":3600,"pl":146.4},{"d":3600,"pl":144.3},{"d":3600,"pl":142.0},
{"d":3810,"pl":145.8},{"d":3810,"pl":143.0},{"d":3810,"pl":141.8},
{"d":3990,"pl":146.4},{"d":3990,"pl":144.3},{"d":3990,"pl":142.0},
{"d":4150,"pl":145.8},{"d":4150,"pl":143.0},{"d":4150,"pl":141.8},
{"d":1300,"pl":137.5},{"d":1600,"pl":138.2},{"d":2000,"pl":136.9},{"d":2500,"pl":138.6},{"d":3000,"pl":137.8},{"d":1150,"pl":136.0},{"d":1800,"pl":139.0},{"d":2700,"pl":135.5},
{"d":40,"pl":119.5},{"d":44,"pl":119.8},{"d":48,"pl":119.4},{"d":53,"pl":119.7},{"d":58,"pl":119.6},{"d":64,"pl":119.3},{"d":70,"pl":119.8},{"d":77,"pl":119.5},{"d":85,"pl":119.6},{"d":93,"pl":119.4},{"d":102,"pl":119.7},{"d":112,"pl":119.5},{"d":123,"pl":119.8},{"d":135,"pl":119.4},{"d":148,"pl":119.6},
{"d":40,"pl":115.4},{"d":44,"pl":115.6},{"d":48,"pl":115.3},{"d":53,"pl":115.5},{"d":58,"pl":115.7},{"d":64,"pl":115.4},{"d":70,"pl":115.2},{"d":77,"pl":115.5},{"d":85,"pl":115.6},{"d":93,"pl":115.3},{"d":102,"pl":115.5},{"d":112,"pl":115.7},{"d":123,"pl":115.4},{"d":135,"pl":115.6},{"d":148,"pl":115.3},
{"d":50,"pl":117.5},{"d":70,"pl":118.0},{"d":95,"pl":116.8},{"d":130,"pl":117.9},
{"d":42,"pl":113.5},{"d":42,"pl":109.2},{"d":42,"pl":104.8},{"d":42,"pl":100.1},{"d":42,"pl":96.0},
{"d":46,"pl":112.0},{"d":46,"pl":107.1},{"d":46,"pl":102.3},{"d":46,"pl":114.6},{"d":46,"pl":98.4},
{"d":50,"pl":114.1},{"d":50,"pl":110.3},{"d":50,"pl":105.9},{"d":50,"pl":101.2},{"d":50,"pl":97.5},
{"d":55,"pl":112.8},{"d":55,"pl":108.4},{"d":55,"pl":103.6},{"d":55,"pl":114.9},{"d":55,"pl":99.3},
{"d":60,"pl":113.9},{"d":60,"pl":110.0},{"d":60,"pl":106.2},{"d":60,"pl":102.0},{"d":60,"pl":98.1},
{"d":66,"pl":114.5},{"d":66,"pl":109.7},{"d":66,"pl":104.9},{"d":66,"pl":112.2},{"d":66,"pl":100.6},
{"d":72,"pl":113.2},{"d":72,"pl":108.8},{"d":72,"pl":103.8},{"d":72,"pl":114.7},{"d":72,"pl":99.0},
{"d":79,"pl":114.3},{"d":79,"pl":110.6},{"d":79,"pl":106.5},{"d":79,"pl":101.8},{"d":79,"pl":97.2},
{"d":86,"pl":112.5},{"d":86,"pl":108.1},{"d":86,"pl":103.2},{"d":86,"pl":114.8},{"d":86,"pl":99.6},
{"d":94,"pl":113.8},{"d":94,"pl":109.4},{"d":94,"pl":105.2},{"d":94,"pl":100.9},{"d":94,"pl":97.0},
{"d":103,"pl":114.6},{"d":103,"pl":110.8},{"d":103,"pl":106.8},{"d":103,"pl":102.5},{"d":103,"pl":112.7},
{"d":113,"pl":113.1},{"d":113,"pl":108.9},{"d":113,"pl":104.6},{"d":113,"pl":114.4},{"d":113,"pl":100.3},
{"d":124,"pl":114.2},{"d":124,"pl":110.2},{"d":124,"pl":106.0},{"d":124,"pl":111.9},{"d":124,"pl":102.8},
{"d":136,"pl":112.9},{"d":136,"pl":108.6},{"d":136,"pl":104.1},{"d":136,"pl":114.5},{"d":136,"pl":106.9},
{"d":150,"pl":113.7},{"d":150,"pl":109.9},{"d":150,"pl":105.4},{"d":150,"pl":111.3},{"d":150,"pl":107.8},
{"d":165,"pl":114.0},{"d":165,"pl":110.5},{"d":165,"pl":107.2},{"d":165,"pl":112.6},{"d":165,"pl":108.3},
{"d":182,"pl":113.4},{"d":182,"pl":111.0},{"d":182,"pl":108.7},{"d":182,"pl":114.3},{"d":182,"pl":109.5},
{"d":200,"pl":112.3},{"d":200,"pl":114.6},{"d":200,"pl":110.4},{"d":200,"pl":113.0},{"d":200,"pl":111.6},
{"d":68,"pl":97.3},{"d":72,"pl":97.1},{"d":76,"pl":97.4},{"d":80,"pl":97.2},{"d":84,"pl":97.0},{"d":88,"pl":97.3},{"d":92,"pl":97.2},{"d":96,"pl":97.1},{"d":100,"pl":97.3},
{"d":39.5,"pl":100.5},{"d":40,"pl":104.0},{"d":40.5,"pl":107.5},{"d":39.8,"pl":111.0},{"d":40.2,"pl":121.5},{"d":40,"pl":124.5},{"d":39.6,"pl":127.5},{"d":40.3,"pl":130.5},{"d":40.1,"pl":133.0},{"d":39.9,"pl":118.0},{"d":40.4,"pl":113.0},{"d":39.7,"pl":102.2},{"d":40.2,"pl":109.0},{"d":40,"pl":126.0},{"d":40.5,"pl":122.8},
{"d":10.5,"pl":92.0},{"d":11,"pl":85.5},{"d":11.5,"pl":99.8},{"d":12,"pl":88.6},{"d":12.5,"pl":104.3},{"d":13,"pl":95.1},{"d":13.5,"pl":82.4},{"d":14,"pl":91.7},{"d":15,"pl":100.6},{"d":15.5,"pl":87.2},{"d":16,"pl":108.2},{"d":17,"pl":94.4},{"d":17.5,"pl":84.9},{"d":18,"pl":101.5},{"d":19,"pl":90.0},{"d":20,"pl":97.6},{"d":21,"pl":106.4},{"d":22,"pl":88.1},{"d":23,"pl":93.5},{"d":24,"pl":103.0},{"d":25,"pl":98.8},{"d":26,"pl":85.0},{"d":27,"pl":91.2},{"d":28,"pl":108.9},{"d":29,"pl":96.3},{"d":30,"pl":102.1},{"d":31,"pl":89.4},{"d":32,"pl":110.5},{"d":33,"pl":94.7},{"d":34,"pl":99.9},{"d":35,"pl":105.7},{"d":36,"pl":92.6},{"d":37,"pl":111.8},{"d":38,"pl":97.9},{"d":26,"pl":80.6},{"d":30,"pl":82.9},{"d":19,"pl":111.3},{"d":14,"pl":112.0},{"d":22,"pl":115.6},{"d":27,"pl":119.0},{"d":33,"pl":126.5},{"d":18,"pl":123.2},{"d":24,"pl":131.0},{"d":29,"pl":135.1},{"d":35,"pl":139.4},{"d":38,"pl":143.5},{"d":31,"pl":117.4},{"d":16,"pl":97.0},{"d":12,"pl":79.0},
{"d":13,"pl":77.0},{"d":17,"pl":75.5},{"d":21,"pl":79.2},{"d":25,"pl":74.0},{"d":28,"pl":78.5},{"d":32,"pl":84.0},{"d":35,"pl":87.9},{"d":38,"pl":90.8},{"d":42,"pl":93.5},{"d":20,"pl":70.5},
{"d":4.2,"pl":78.0},{"d":4.5,"pl":92.5},{"d":4.8,"pl":69.0},{"d":5.0,"pl":84.8},{"d":5.2,"pl":73.5},{"d":5.2,"pl":79.0},{"d":5.2,"pl":86.0},{"d":5.2,"pl":91.5},{"d":5.3,"pl":95.5},{"d":5.1,"pl":70.8},{"d":5.5,"pl":101.0},{"d":6.0,"pl":88.0},{"d":6.3,"pl":76.4},{"d":6.6,"pl":94.8},{"d":7.0,"pl":83.2},{"d":7.3,"pl":105.6},{"d":7.6,"pl":90.1},{"d":8.0,"pl":79.8},{"d":8.3,"pl":97.7},{"d":8.7,"pl":86.9},{"d":9.0,"pl":108.5},{"d":9.4,"pl":92.2},{"d":9.8,"pl":81.5},{"d":6.8,"pl":66.5},{"d":4.0,"pl":83.5},{"d":3.6,"pl":94.0},{"d":8.6,"pl":31.0},{"d":5.8,"pl":110.0},
{"d":72,"pl":80.5},{"d":75,"pl":77.2},{"d":78,"pl":82.0},{"d":80,"pl":74.6},{"d":82,"pl":79.1},{"d":84,"pl":76.3},{"d":86,"pl":81.4},{"d":88,"pl":73.8},{"d":90,"pl":78.0},{"d":76,"pl":73.2},{"d":79,"pl":78.8},{"d":83,"pl":81.8},{"d":87,"pl":75.9},{"d":92,"pl":80.0},{"d":81,"pl":76.9},{"d":85,"pl":72.9},{"d":77,"pl":79.9},{"d":89,"pl":77.1},
{"d":80,"pl":68.0},{"d":83,"pl":65.2},{"d":86,"pl":62.7},{"d":84,"pl":60.1},{"d":81,"pl":63.8},{"d":87,"pl":66.4},{"d":85,"pl":58.5},{"d":82,"pl":67.0},{"d":88,"pl":61.5},{"d":83,"pl":69.0},{"d":86,"pl":64.4},
{"d":52,"pl":50.4},{"d":55,"pl":50.7},{"d":58,"pl":50.3},{"d":61,"pl":50.6},{"d":64,"pl":50.5},{"d":67,"pl":50.8},{"d":70,"pl":50.4},{"d":73,"pl":50.6},{"d":76,"pl":50.3},{"d":79,"pl":50.7},{"d":82,"pl":50.5},{"d":85,"pl":50.9},{"d":88,"pl":50.4},{"d":91,"pl":50.6},{"d":95,"pl":50.5},{"d":70,"pl":51.6},{"d":80,"pl":49.6},{"d":88,"pl":51.5},{"d":75,"pl":49.8},
{"d":88,"pl":39.5},{"d":75,"pl":17.5},{"d":82,"pl":86.0},{"d":78,"pl":88.5},
{"d":45,"pl":128.2},{"d":50,"pl":135.6},{"d":55,"pl":142.8},{"d":38,"pl":121.5},{"d":42,"pl":137.0},{"d":47,"pl":145.2},{"d":58,"pl":118.6},{"d":36,"pl":131.7}
],
"F": [
{"d":95,"pl":147.8},{"d":95,"pl":144.6},{"d":95,"pl":141.4},{"d":95,"pl":138.3},
{"d":100,"pl":146.3},{"d":100,"pl":143.0},{"d":100,"pl":139.8},{"d":100,"pl":148.0},
{"d":106,"pl":147.2},{"d":106,"pl":145.4},{"d":106,"pl":142.2},{"d":106,"pl":139.0},
{"d":112,"pl":145.7},{"d":112,"pl":143.8},{"d":112,"pl":140.6},{"d":112,"pl":147.5},
{"d":119,"pl":147.5},{"d":119,"pl":144.3},{"d":119,"pl":141.0},{"d":119,"pl":138.0},
{"d":126,"pl":146.0},{"d":126,"pl":142.7},{"d":126,"pl":139.5},{"d":126,"pl":147.7},
{"d":134,"pl":147.0},{"d":134,"pl":145.1},{"d":134,"pl":141.8},{"d":134,"pl":138.7},
{"d":142,"pl":145.4},{"d":142,"pl":143.5},{"d":142,"pl":140.2},{"d":142,"pl":147.3},
{"d":150,"pl":147.8},{"d":150,"pl":144.6},{"d":150,"pl":141.4},{"d":150,"pl":138.3},
{"d":160,"pl":146.3},{"d":160,"pl":143.0},{"d":160,"pl":139.8},{"d":160,"pl":148.0},
{"d":170,"pl":147.2},{"d":170,"pl":145.4},{"d":170,"pl":142.2},{"d":170,"pl":139.0},
{"d":180,"pl":145.7},{"d":180,"pl":143.8},{"d":180,"pl":140.6},{"d":180,"pl":147.5},
{"d":191,"pl":147.5},{"d":191,"pl":144.3},{"d":191,"pl":141.0},{"d":191,"pl":138.0},
{"d":203,"pl":146.0},{"d":203,"pl":142.7},{"d":203,"pl":139.5},{"d":203,"pl":147.7},
{"d":215,"pl":147.0},{"d":215,"pl":145.1},{"d":215,"pl":141.8},{"d":215,"pl":138.7},
{"d":228,"pl":145.4},{"d":228,"pl":143.5},{"d":228,"pl":140.2},{"d":228,"pl":147.3},
{"d":242,"pl":147.8},{"d":242,"pl":144.6},{"d":242,"pl":141.4},{"d":242,"pl":138.3},
{"d":257,"pl":146.3},{"d":257,"pl":143.0},{"d":257,"pl":139.8},{"d":257,"pl":148.0},
{"d":273,"pl":147.2},{"d":273,"pl":145.4},{"d":273,"pl":142.2},{"d":273,"pl":139.0},
{"d":290,"pl":145.7},{"d":290,"pl":143.8},{"d":290,"pl":140.6},{"d":290,"pl":147.5},
{"d":308,"pl":146.8},{"d":308,"pl":143.7},{"d":308,"pl":140.6},{"d":308,"pl":137.6},
{"d":327,"pl":145.3},{"d":327,"pl":142.2},{"d":327,"pl":139.1},{"d":327,"pl":147.2},
{"d":347,"pl":146.2},{"d":347,"pl":144.5},{"d":347,"pl":141.4},{"d":347,"pl":138.4},
{"d":368,"pl":144.9},{"d":368,"pl":143.0},{"d":368,"pl":139.9},{"d":368,"pl":146.9},
{"d":390,"pl":146.5},{"d":390,"pl":143.4},{"d":390,"pl":140.3},{"d":390,"pl":137.3},
{"d":414,"pl":145.0},{"d":414,"pl":141.9},{"d":414,"pl":138.8},{"d":414,"pl":147.0},
{"d":440,"pl":146.0},{"d":440,"pl":144.2},{"d":440,"pl":141.1},{"d":440,"pl":138.1},
{"d":470,"pl":144.6},{"d":470,"pl":142.7},{"d":470,"pl":139.6},{"d":470,"pl":146.6},
{"d":500,"pl":146.8},{"d":500,"pl":143.7},{"d":500,"pl":140.6},{"d":500,"pl":137.6},
{"d":530,"pl":145.3},{"d":530,"pl":142.2},{"d":530,"pl":139.1},{"d":530,"pl":147.2},
{"d":565,"pl":146.2},{"d":565,"pl":144.5},{"d":565,"pl":141.4},{"d":565,"pl":138.4},
{"d":600,"pl":144.9},{"d":600,"pl":143.0},{"d":600,"pl":139.9},{"d":600,"pl":146.9},
{"d":640,"pl":146.8},{"d":640,"pl":143.7},{"d":640,"pl":140.6},{"d":640,"pl":137.6},
{"d":680,"pl":145.3},{"d":680,"pl":142.2},{"d":680,"pl":139.1},{"d":680,"pl":144.2},
{"d":97.5,"pl":146.9},{"d":97.5,"pl":142.9},{"d":97.5,"pl":139.6},
{"d":103,"pl":147.8},{"d":103,"pl":144.2},{"d":103,"pl":140.9},
{"d":109,"pl":146.9},{"d":109,"pl":142.9},{"d":109,"pl":139.6},
{"d":115.5,"pl":147.8},{"d":115.5,"pl":144.2},{"d":115.5,"pl":140.9},
{"d":122.5,"pl":146.9},{"d":122.5,"pl":142.9},{"d":122.5,"pl":139.6},
{"d":130,"pl":147.8},{"d":130,"pl":144.2},{"d":130,"pl":140.9},
{"d":138,"pl":146.9},{"d":138,"pl":142.9},{"d":138,"pl":139.6},
{"d":146,"pl":147.8},{"d":146,"pl":144.2},{"d":146,"pl":140.9},
{"d":155,"pl":146.9},{"d":155,"pl":142.9},{"d":155,"pl":139.6},
{"d":165,"pl":147.8},{"d":165,"pl":144.2},{"d":165,"pl":140.9},
{"d":175,"pl":146.9},{"d":175,"pl":142.9},{"d":175,"pl":139.6},
{"d":185.5,"pl":147.8},{"d":185.5,"pl":144.2},{"d":185.5,"pl":140.9},
{"d":197,"pl":146.9},{"d":197,"pl":142.9},{"d":197,"pl":139.6},
{"d":209,"pl":147.8},{"d":209,"pl":144.2},{"d":209,"pl":140.9},
{"d":221.5,"pl":146.9},{"d":221.5,"pl":142.9},{"d":221.5,"pl":139.6},
{"d":235,"pl":147.8},{"d":235,"pl":144.2},{"d":235,"pl":140.9},
{"d":249.5,"pl":146.9},{"d":249.5,"pl":142.9},{"d":249.5,"pl":139.6},
{"d":265,"pl":147.8},{"d":265,"pl":144.2},{"d":265,"pl":140.9},
{"d":281.5,"pl":146.9},{"d":281.5,"pl":142.9},{"d":281.5,"pl":139.6},
{"d":299,"pl":146.0},{"d":299,"pl":142.5},{"d":299,"pl":139.0},
{"d":317.5,"pl":147.0},{"d":317.5,"pl":144.0},{"d":317.5,"pl":140.5},
{"d":337,"pl":146.0},{"d":337,"pl":142.5},{"d":337,"pl":139.0},
{"d":357.5,"pl":147.0},{"d":357.5,"pl":144.0},{"d":357.5,"pl":140.5},
{"d":379,"pl":146.0},{"d":379,"pl":142.5},{"d":379,"pl":139.0},
{"d":402,"pl":147.0},{"d":402,"pl":144.0},{"d":402,"pl":140.5},
{"d":427,"pl":146.0},{"d":427,"pl":142.5},{"d":427,"pl":139.0},
{"d":455,"pl":147.0},{"d":455,"pl":144.0},{"d":455,"pl":140.5},
{"d":485,"pl":146.0},{"d":485,"pl":142.5},{"d":485,"pl":139.0},
{"d":515,"pl":147.0},{"d":515,"pl":144.0},{"d":515,"pl":140.5},
{"d":547.5,"pl":146.0},{"d":547.5,"pl":142.5},{"d":547.5,"pl":139.0},
{"d":582.5,"pl":147.0},{"d":582.5,"pl":144.0},{"d":582.5,"pl":140.5},
{"d":620,"pl":146.0},{"d":620,"pl":142.5},{"d":620,"pl":139.0},
{"d":660,"pl":145.5},{"d":660,"pl":143.0},{"d":660,"pl":140.5},
{"d":175,"pl":131.0},{"d":180,"pl":127.2},{"d":185,"pl":134.6},{"d":190,"pl":124.8},{"d":195,"pl":129.5},{"d":200,"pl":136.8},{"d":205,"pl":125.9},{"d":210,"pl":132.2},{"d":215,"pl":128.0},{"d":220,"pl":135.4},{"d":225,"pl":130.6},{"d":230,"pl":126.4},{"d":238,"pl":133.5},{"d":245,"pl":129.0},{"d":250,"pl":136.2},{"d":188,"pl":138.6},{"d":198,"pl":122.0},{"d":218,"pl":138.0},
{"d":11.5,"pl":115.2},{"d":11.5,"pl":111.6},{"d":11.5,"pl":108.0},{"d":11.5,"pl":105.9},
{"d":12,"pl":113.8},{"d":12,"pl":110.2},{"d":12,"pl":106.6},{"d":12,"pl":116.7},
{"d":12.5,"pl":116.0},{"d":12.5,"pl":112.4},{"d":12.5,"pl":108.8},{"d":12.5,"pl":105.2},
{"d":13,"pl":114.5},{"d":13,"pl":110.9},{"d":13,"pl":107.3},{"d":13,"pl":117.1},
{"d":13.5,"pl":115.7},{"d":13.5,"pl":112.0},{"d":13.5,"pl":108.4},{"d":13.5,"pl":104.8},
{"d":14,"pl":113.3},{"d":14,"pl":109.6},{"d":14,"pl":106.1},{"d":14,"pl":116.4},
{"d":14.5,"pl":116.2},{"d":14.5,"pl":112.7},{"d":14.5,"pl":109.1},{"d":14.5,"pl":105.5},
{"d":15,"pl":114.1},{"d":15,"pl":110.5},{"d":15,"pl":106.9},{"d":15,"pl":117.3},
{"d":15.5,"pl":115.5},{"d":15.5,"pl":111.9},{"d":15.5,"pl":108.2},{"d":15.5,"pl":104.6},
{"d":16,"pl":113.6},{"d":16,"pl":110.0},{"d":16,"pl":106.4},{"d":16,"pl":116.8},
{"d":16.5,"pl":115.9},{"d":16.5,"pl":112.2},{"d":16.5,"pl":108.6},{"d":16.5,"pl":105.0},
{"d":17,"pl":114.3},{"d":17,"pl":110.7},{"d":17,"pl":107.1},{"d":17,"pl":103.8},
{"d":18,"pl":115.1},{"d":18,"pl":111.3},{"d":18,"pl":107.7},{"d":18,"pl":104.2},
{"d":19,"pl":113.9},{"d":19,"pl":109.8},{"d":19,"pl":106.3},{"d":19,"pl":102.9},
{"d":11.75,"pl":114.0},{"d":11.75,"pl":109.6},{"d":11.75,"pl":105.8},
{"d":12.25,"pl":116.0},{"d":12.25,"pl":111.0},{"d":12.25,"pl":107.0},
{"d":12.75,"pl":114.0},{"d":12.75,"pl":109.6},{"d":12.75,"pl":105.8},
{"d":13.25,"pl":116.0},{"d":13.25,"pl":111.0},{"d":13.25,"pl":107.0},
{"d":13.75,"pl":114.0},{"d":13.75,"pl":109.6},{"d":13.75,"pl":105.8},
{"d":14.25,"pl":116.0},{"d":14.25,"pl":111.0},{"d":14.25,"pl":107.0},
{"d":14.75,"pl":114.0},{"d":14.75,"pl":109.6},{"d":14.75,"pl":105.8},
{"d":15.25,"pl":116.0},{"d":15.25,"pl":111.0},{"d":15.25,"pl":107.0},
{"d":15.75,"pl":114.0},{"d":15.75,"pl":109.6},{"d":15.75,"pl":105.8},
{"d":16.25,"pl":116.0},{"d":16.25,"pl":111.0},{"d":16.25,"pl":107.0},
{"d":16.75,"pl":114.0},{"d":16.75,"pl":109.6},{"d":16.75,"pl":105.8},
{"d":17.5,"pl":116.0},{"d":17.5,"pl":111.0},{"d":17.5,"pl":107.0},
{"d":18.5,"pl":114.0},{"d":18.5,"pl":109.6},{"d":18.5,"pl":105.8},
{"d":13,"pl":121.5},{"d":13.5,"pl":124.8},{"d":14,"pl":122.6},{"d":14.5,"pl":126.1},{"d":15,"pl":120.9},{"d":15.5,"pl":123.7},{"d":16,"pl":125.9},{"d":16.5,"pl":121.8},{"d":17,"pl":124.2},{"d":17.5,"pl":126.8},{"d":18,"pl":122.9},{"d":14.2,"pl":119.6},{"d":15.8,"pl":127.4},{"d":13.2,"pl":126.3},
{"d":14,"pl":101.2},{"d":14.5,"pl":97.5},{"d":15,"pl":93.8},{"d":15.5,"pl":99.6},{"d":16,"pl":95.7},{"d":16.5,"pl":90.8},{"d":17,"pl":102.3},{"d":17.5,"pl":96.6},{"d":18,"pl":92.4},{"d":18.5,"pl":99.0},{"d":19,"pl":89.6},{"d":20,"pl":94.9},{"d":21,"pl":100.5},{"d":22,"pl":91.5},{"d":15,"pl":88.6},{"d":17,"pl":87.9},
{"d":20,"pl":127.0},{"d":21,"pl":133.5},{"d":22,"pl":121.6},{"d":23,"pl":138.2},{"d":24,"pl":129.9},{"d":25,"pl":124.5},{"d":26,"pl":135.8},{"d":27,"pl":119.7},{"d":28,"pl":131.3},{"d":30,"pl":126.8},{"d":32,"pl":140.3},{"d":33,"pl":122.9},{"d":35,"pl":134.7},{"d":37,"pl":128.4},{"d":39,"pl":143.1},{"d":41,"pl":125.3},{"d":43,"pl":137.6},{"d":45,"pl":131.9},{"d":47,"pl":120.8},{"d":50,"pl":141.2},{"d":52,"pl":127.7},{"d":55,"pl":135.0},{"d":58,"pl":144.6},{"d":60,"pl":130.5},{"d":63,"pl":123.6},{"d":66,"pl":139.1},{"d":70,"pl":133.6},{"d":73,"pl":145.9},{"d":76,"pl":127.2},{"d":80,"pl":140.7},{"d":84,"pl":135.4},{"d":88,"pl":146.8},{"d":92,"pl":131.8},{"d":96,"pl":143.5},{"d":22,"pl":142.0},{"d":28,"pl":145.0},{"d":36,"pl":116.0},{"d":45,"pl":118.5},{"d":55,"pl":121.0},{"d":65,"pl":126.3},{"d":78,"pl":131.0},{"d":90,"pl":137.5},{"d":30,"pl":113.4},{"d":25,"pl":116.8},{"d":40,"pl":112.5},{"d":50,"pl":110.0},{"d":34,"pl":108.0},
{"d":14,"pl":86.5},{"d":16,"pl":82.0},{"d":18,"pl":84.7},{"d":20,"pl":79.8},{"d":22,"pl":86.0},{"d":24,"pl":74.5},{"d":26,"pl":81.5},{"d":28,"pl":77.0},{"d":30,"pl":84.2},{"d":33,"pl":71.2},{"d":36,"pl":79.0},{"d":40,"pl":75.5},{"d":44,"pl":82.9},{"d":48,"pl":72.0},{"d":52,"pl":78.5},{"d":56,"pl":86.0},{"d":96,"pl":84.5},{"d":88,"pl":88.0},{"d":70,"pl":86.4},{"d":62,"pl":70.0},{"d":13,"pl":80.0},{"d":19,"pl":76.0},{"d":27,"pl":89.3},{"d":36,"pl":88.8},{"d":45,"pl":90.5},
{"d":2.6,"pl":131.0},{"d":3.0,"pl":121.5},{"d":3.3,"pl":114.0},{"d":3.6,"pl":126.2},{"d":4.0,"pl":108.5},{"d":4.3,"pl":118.9},{"d":4.7,"pl":129.4},{"d":5.0,"pl":112.3},{"d":5.4,"pl":123.7},{"d":5.8,"pl":105.6},{"d":6.2,"pl":116.0},{"d":6.6,"pl":127.9},{"d":7.0,"pl":110.8},{"d":7.5,"pl":121.0},{"d":8.0,"pl":132.4},{"d":8.5,"pl":115.5},{"d":9.0,"pl":125.0},{"d":9.5,"pl":107.2},{"d":10,"pl":119.3},{"d":10.5,"pl":128.6},{"d":3.0,"pl":88.0},{"d":2.4,"pl":105.0},{"d":6.0,"pl":133.5},{"d":8.8,"pl":101.0},{"d":11,"pl":122.5},{"d":12,"pl":130.0},{"d":10,"pl":98.5}
]
},
"hconcat": [
{
 "title": "Urban",
 "width": 315, "height": 359,
 "encoding": {
  "x": {"field": "d", "type": "quantitative", "scale": {"type": "log", "domain": [2.984, 1493], "nice": false}, "title": null,
        "axis": {"values": [4,5,6,7,8,9,10,20,30,40,50,60,70,80,90,100,200,300,400,500,600,700,800,900,1000], "labelExpr": "datum.value === 10 ? '10¹' : datum.value === 100 ? '10²' : datum.value === 1000 ? '10³' : ''"}},
  "y": {"field": "pl", "type": "quantitative", "scale": {"domain": [6.65, 211.4], "nice": false, "zero": false}, "title": "Path Loss (dB)", "axis": {"values": [50,100,150,200], "minExtent": 58}},
  "color": {"field": "model", "type": "nominal", "scale": {"domain": ["Measured Path Loss","with Censored Data (ML)","without Censored Data (OLS)"], "range": ["#aaaaaa","#1f77b4","#ff7f0e"]}, "legend": null}
 },
 "layer": [
  {"data": {"name": "fit"}, "transform": [{"filter": "datum.panel === 'Urban'"}],
   "mark": {"type": "area", "fillOpacity": 0.1},
   "encoding": {
    "y": {"field": "lo", "type": "quantitative", "stack": null, "scale": {"domain": [6.65, 211.4], "nice": false, "zero": false}, "title": "Path Loss (dB)", "axis": {"values": [50,100,150,200], "minExtent": 58}},
    "y2": {"field": "hi"}
   }},
  {"data": {"name": "U"}, "mark": {"type": "circle", "size": 12, "opacity": 0.5},
   "encoding": {"color": {"datum": "Measured Path Loss", "scale": {"domain": ["Measured Path Loss","with Censored Data (ML)","without Censored Data (OLS)"], "range": ["#aaaaaa","#1f77b4","#ff7f0e"]}, "legend": null}}},
  {"data": {"name": "fit"}, "transform": [{"filter": "datum.panel === 'Urban'"}],
   "mark": {"type": "line", "strokeDash": [7,5], "strokeWidth": 1.3, "opacity": 0.6},
   "encoding": {"y": {"field": "lo", "type": "quantitative", "scale": {"domain": [6.65, 211.4], "nice": false, "zero": false}, "title": "Path Loss (dB)", "axis": {"values": [50,100,150,200], "minExtent": 58}}}},
  {"data": {"name": "fit"}, "transform": [{"filter": "datum.panel === 'Urban'"}],
   "mark": {"type": "line", "strokeDash": [7,5], "strokeWidth": 1.3, "opacity": 0.6},
   "encoding": {"y": {"field": "hi", "type": "quantitative", "scale": {"domain": [6.65, 211.4], "nice": false, "zero": false}, "title": "Path Loss (dB)", "axis": {"values": [50,100,150,200], "minExtent": 58}}}},
  {"data": {"name": "fit"}, "transform": [{"filter": "datum.panel === 'Urban'"}],
   "mark": {"type": "line", "strokeWidth": 1.6}}
 ]
},
{
 "title": "Coastal",
 "width": 389, "height": 359,
 "encoding": {
  "x": {"field": "d", "type": "quantitative", "scale": {"type": "log", "domain": [2.075, 5117], "nice": false}, "title": "Log distance (m)",
        "axis": {"titleX": 199, "values": [3,4,5,6,7,8,9,10,20,30,40,50,60,70,80,90,100,200,300,400,500,600,700,800,900,1000,2000,3000,4000,5000], "labelExpr": "datum.value === 10 ? '10¹' : datum.value === 100 ? '10²' : datum.value === 1000 ? '10³' : ''"}},
  "y": {"field": "pl", "type": "quantitative", "scale": {"domain": [6.65, 211.4], "nice": false, "zero": false}, "title": null, "axis": {"values": [50,100,150,200], "minExtent": 76}},
  "color": {"field": "model", "type": "nominal", "scale": {"domain": ["Measured Path Loss","with Censored Data (ML)","without Censored Data (OLS)"], "range": ["#aaaaaa","#1f77b4","#ff7f0e"]}, "legend": null}
 },
 "layer": [
  {"data": {"name": "fit"}, "transform": [{"filter": "datum.panel === 'Coastal'"}],
   "mark": {"type": "area", "fillOpacity": 0.05},
   "encoding": {
    "y": {"field": "lo", "type": "quantitative", "stack": null, "scale": {"domain": [6.65, 211.4], "nice": false, "zero": false}, "title": null, "axis": {"values": [50,100,150,200], "minExtent": 76}},
    "y2": {"field": "hi"}
   }},
  {"data": {"name": "C"}, "mark": {"type": "circle", "size": 12, "opacity": 0.5},
   "encoding": {"color": {"datum": "Measured Path Loss", "scale": {"domain": ["Measured Path Loss","with Censored Data (ML)","without Censored Data (OLS)"], "range": ["#aaaaaa","#1f77b4","#ff7f0e"]}, "legend": null}}},
  {"data": {"name": "fit"}, "transform": [{"filter": "datum.panel === 'Coastal'"}],
   "mark": {"type": "line", "strokeDash": [7,5], "strokeWidth": 1.3, "opacity": 0.6},
   "encoding": {"y": {"field": "lo", "type": "quantitative", "scale": {"domain": [6.65, 211.4], "nice": false, "zero": false}, "title": null, "axis": {"values": [50,100,150,200], "minExtent": 76}}}},
  {"data": {"name": "fit"}, "transform": [{"filter": "datum.panel === 'Coastal'"}],
   "mark": {"type": "line", "strokeDash": [7,5], "strokeWidth": 1.3, "opacity": 0.6},
   "encoding": {"y": {"field": "hi", "type": "quantitative", "scale": {"domain": [6.65, 211.4], "nice": false, "zero": false}, "title": null, "axis": {"values": [50,100,150,200], "minExtent": 76}}}},
  {"data": {"name": "fit"}, "transform": [{"filter": "datum.panel === 'Coastal'"}],
   "mark": {"type": "line", "strokeWidth": 1.6}}
 ]
},
{
 "title": "Forest",
 "width": 299, "height": 359,
 "encoding": {
  "x": {"field": "d", "type": "quantitative", "scale": {"type": "log", "domain": [1.47, 1153], "nice": false}, "title": null,
        "axis": {"values": [2,3,4,5,6,7,8,9,10,20,30,40,50,60,70,80,90,100,200,300,400,500,600,700,800,900,1000], "labelExpr": "datum.value === 10 ? '10¹' : datum.value === 100 ? '10²' : datum.value === 1000 ? '10³' : ''"}},
  "y": {"field": "pl", "type": "quantitative", "scale": {"domain": [6.65, 211.4], "nice": false, "zero": false}, "title": null, "axis": {"values": [50,100,150,200], "minExtent": 83}},
  "color": {"field": "model", "type": "nominal", "scale": {"domain": ["Measured Path Loss","with Censored Data (ML)","without Censored Data (OLS)"], "range": ["#aaaaaa","#1f77b4","#ff7f0e"]},
    "legend": {"orient": "none", "legendX": 24, "legendY": 266, "title": null, "padding": 0, "rowPadding": 0, "clipHeight": 22.5, "symbolSize": 2025, "symbolType": "stroke", "symbolStrokeWidth": 1.5, "labelFont": "Liberation Serif", "labelFontSize": 20, "labelOffset": 5, "labelLimit": 400, "labelColor": "#000000",
      "encode": {"symbols": {"update": {
        "shape": {"signal": "datum.value === 'Measured Path Loss' ? 'circle' : 'stroke'"},
        "size": {"signal": "datum.value === 'Measured Path Loss' ? 6 : 2025"},
        "fill": {"signal": "datum.value === 'Measured Path Loss' ? '#c4c4c4' : 'transparent'"},
        "stroke": {"signal": "datum.value === 'Measured Path Loss' ? 'transparent' : datum.value === 'with Censored Data (ML)' ? '#1f77b4' : '#ff7f0e'"},
        "strokeWidth": {"value": 1.5},
        "opacity": {"value": 1}}}}}}
 },
 "layer": [
  {"data": {"name": "fit"}, "transform": [{"filter": "datum.panel === 'Forest'"}],
   "mark": {"type": "area", "fillOpacity": 0.05},
   "encoding": {
    "y": {"field": "lo", "type": "quantitative", "stack": null, "scale": {"domain": [6.65, 211.4], "nice": false, "zero": false}, "title": null, "axis": {"values": [50,100,150,200], "minExtent": 83}},
    "y2": {"field": "hi"}
   }},
  {"data": {"name": "F"}, "mark": {"type": "circle", "size": 12, "opacity": 0.5},
   "encoding": {"color": {"datum": "Measured Path Loss", "scale": {"domain": ["Measured Path Loss","with Censored Data (ML)","without Censored Data (OLS)"], "range": ["#aaaaaa","#1f77b4","#ff7f0e"]},
    "legend": {"orient": "none", "legendX": 24, "legendY": 266, "title": null, "padding": 0, "rowPadding": 0, "clipHeight": 22.5, "symbolSize": 2025, "symbolType": "stroke", "symbolStrokeWidth": 1.5, "labelFont": "Liberation Serif", "labelFontSize": 20, "labelOffset": 5, "labelLimit": 400, "labelColor": "#000000",
      "encode": {"symbols": {"update": {
        "shape": {"signal": "datum.value === 'Measured Path Loss' ? 'circle' : 'stroke'"},
        "size": {"signal": "datum.value === 'Measured Path Loss' ? 6 : 2025"},
        "fill": {"signal": "datum.value === 'Measured Path Loss' ? '#c4c4c4' : 'transparent'"},
        "stroke": {"signal": "datum.value === 'Measured Path Loss' ? 'transparent' : datum.value === 'with Censored Data (ML)' ? '#1f77b4' : '#ff7f0e'"},
        "strokeWidth": {"value": 1.5},
        "opacity": {"value": 1}}}}}}}},
  {"data": {"name": "fit"}, "transform": [{"filter": "datum.panel === 'Forest'"}],
   "mark": {"type": "line", "strokeDash": [7,5], "strokeWidth": 1.3, "opacity": 0.6},
   "encoding": {"y": {"field": "lo", "type": "quantitative", "scale": {"domain": [6.65, 211.4], "nice": false, "zero": false}, "title": null, "axis": {"values": [50,100,150,200], "minExtent": 83}}}},
  {"data": {"name": "fit"}, "transform": [{"filter": "datum.panel === 'Forest'"}],
   "mark": {"type": "line", "strokeDash": [7,5], "strokeWidth": 1.3, "opacity": 0.6},
   "encoding": {"y": {"field": "hi", "type": "quantitative", "scale": {"domain": [6.65, 211.4], "nice": false, "zero": false}, "title": null, "axis": {"values": [50,100,150,200], "minExtent": 83}}}},
  {"data": {"name": "fit"}, "transform": [{"filter": "datum.panel === 'Forest'"}],
   "mark": {"type": "line", "strokeWidth": 1.6}}
 ]
}
]
}
